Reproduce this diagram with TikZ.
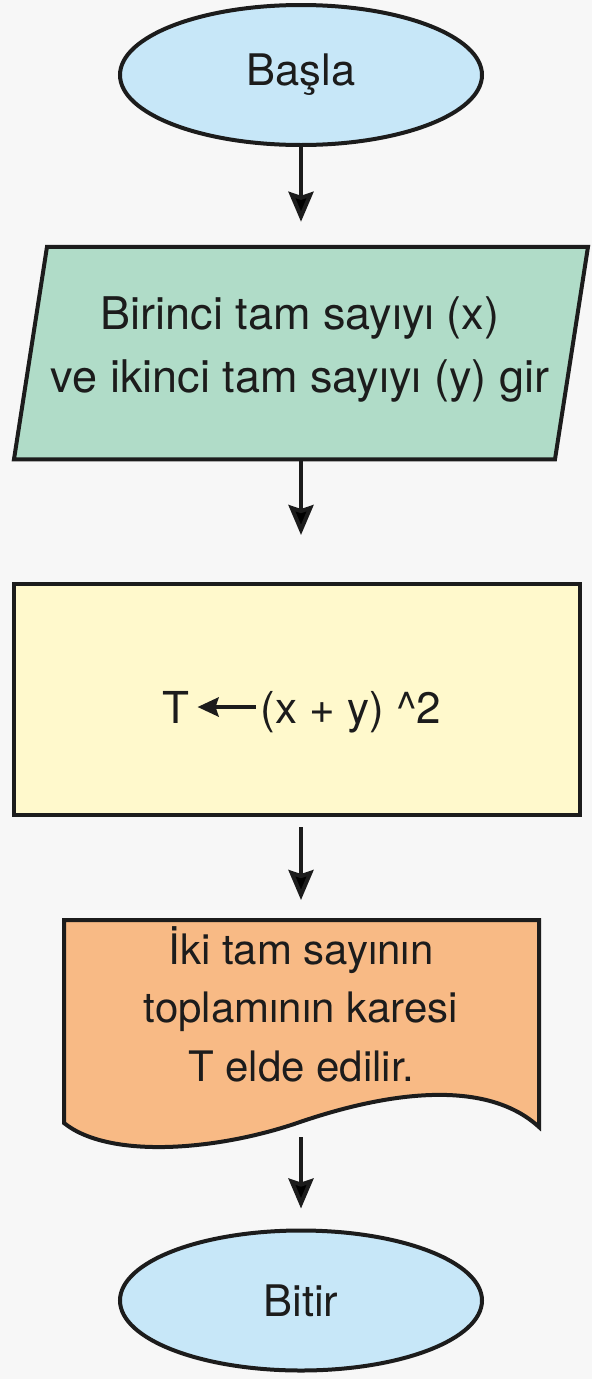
\documentclass[tikz,border=0pt]{standalone}
\usepackage{fontspec}
\setmainfont{TeX Gyre Heros}
\usetikzlibrary{shapes.geometric,arrows.meta,calc}
\definecolor{bg}{HTML}{F7F7F7}
\definecolor{ink}{HTML}{1C1C1C}
\definecolor{termfill}{HTML}{C7E7F8}
\definecolor{iofill}{HTML}{B0DCC8}
\definecolor{procfill}{HTML}{FFF9CC}
\definecolor{docfill}{HTML}{F8BA85}
\begin{document}
\begin{tikzpicture}[x=1pt,y=-1pt,
  shapeline/.style={draw=ink,line width=4pt,line join=miter},
  term/.style={shapeline,ellipse,fill=termfill,minimum width=362pt,minimum height=140pt,inner sep=0pt,text=ink,font=\fontsize{43.5}{50}\selectfont},
  region/.style={draw=none,inner sep=0pt,outer sep=0pt},
  txt/.style={align=center,inner sep=0pt,text=ink,font=\fontsize{45}{63}\selectfont},
  doctxt/.style={align=center,inner sep=0pt,text=ink,font=\fontsize{42}{58.5}\selectfont},
  flowarrow/.style={draw=ink,line width=4pt,-{Stealth[length=30pt,width=25pt,inset=4pt]}},
]
\fill[bg] (0,0) rectangle (592,1379);
\useasboundingbox (0,0) rectangle (592,1379);

% start
\node[term] (start) at (301,75) {Başla};

% input (parallelogram)
\node[region,minimum width=541pt,minimum height=212.5pt] (inp) at (301,353) {};
\draw[shapeline,fill=iofill] ([xshift=16.5pt]inp.north west) -- ([xshift=16.5pt]inp.north east)
  -- ([xshift=-16.5pt]inp.south east) -- ([xshift=-16.5pt]inp.south west) -- cycle;
\node[txt] (inptxt) at (300,349) {Birinci tam sayıyı (x)\\ve ikinci tam sayıyı (y) gir};

% process
\node[shapeline,fill=procfill,minimum width=566pt,minimum height=231pt,inner sep=0pt,text=ink,font=\fontsize{44}{50}\selectfont] (proc) at (297,699.5)
  {\hspace{10pt}\raisebox{-23.5pt}[0pt][0pt]{T\hspace{6pt}\tikz[baseline=0pt,x=1pt,y=1pt]\draw[draw=ink,line width=4.2pt,-{Stealth[length=21pt,width=19pt,inset=3pt]}] (58,16) -- (0,16);\hspace{3pt}(x + y) \textasciicircum2}};

% document
\node[region,minimum width=475pt,minimum height=200pt] (doc) at (301.5,1020) {};
\draw[shapeline,fill=docfill] (doc.north west) -- (doc.north east) -- ([yshift=-7pt]doc.south east)
  .. controls (490,1082) and (400,1088) .. (300,1122)
  .. controls (220,1150) and (110,1160) .. ([yshift=-3pt]doc.south west) -- cycle;
\node[doctxt] (doctext) at (301,1004) {İki tam sayının\\toplamının karesi\\T elde edilir.};

% stop
\node[term] (stop) at (301,1300.5) {Bitir};

% connectors
\draw[flowarrow,shorten >=25pt] (start.south) -- (start.south |- inp.north);
\draw[flowarrow,shorten >=47pt] (inp.south) -- (inp.south |- proc.north);
\draw[flowarrow,shorten <=10pt,shorten >=20pt] (inp.south |- proc.south) -- (inp.south |- doc.north);
\draw[flowarrow,shorten <=17pt,shorten >=20pt] (inp.south |- doc.south) -- (stop.north);
\end{tikzpicture}
\end{document}
